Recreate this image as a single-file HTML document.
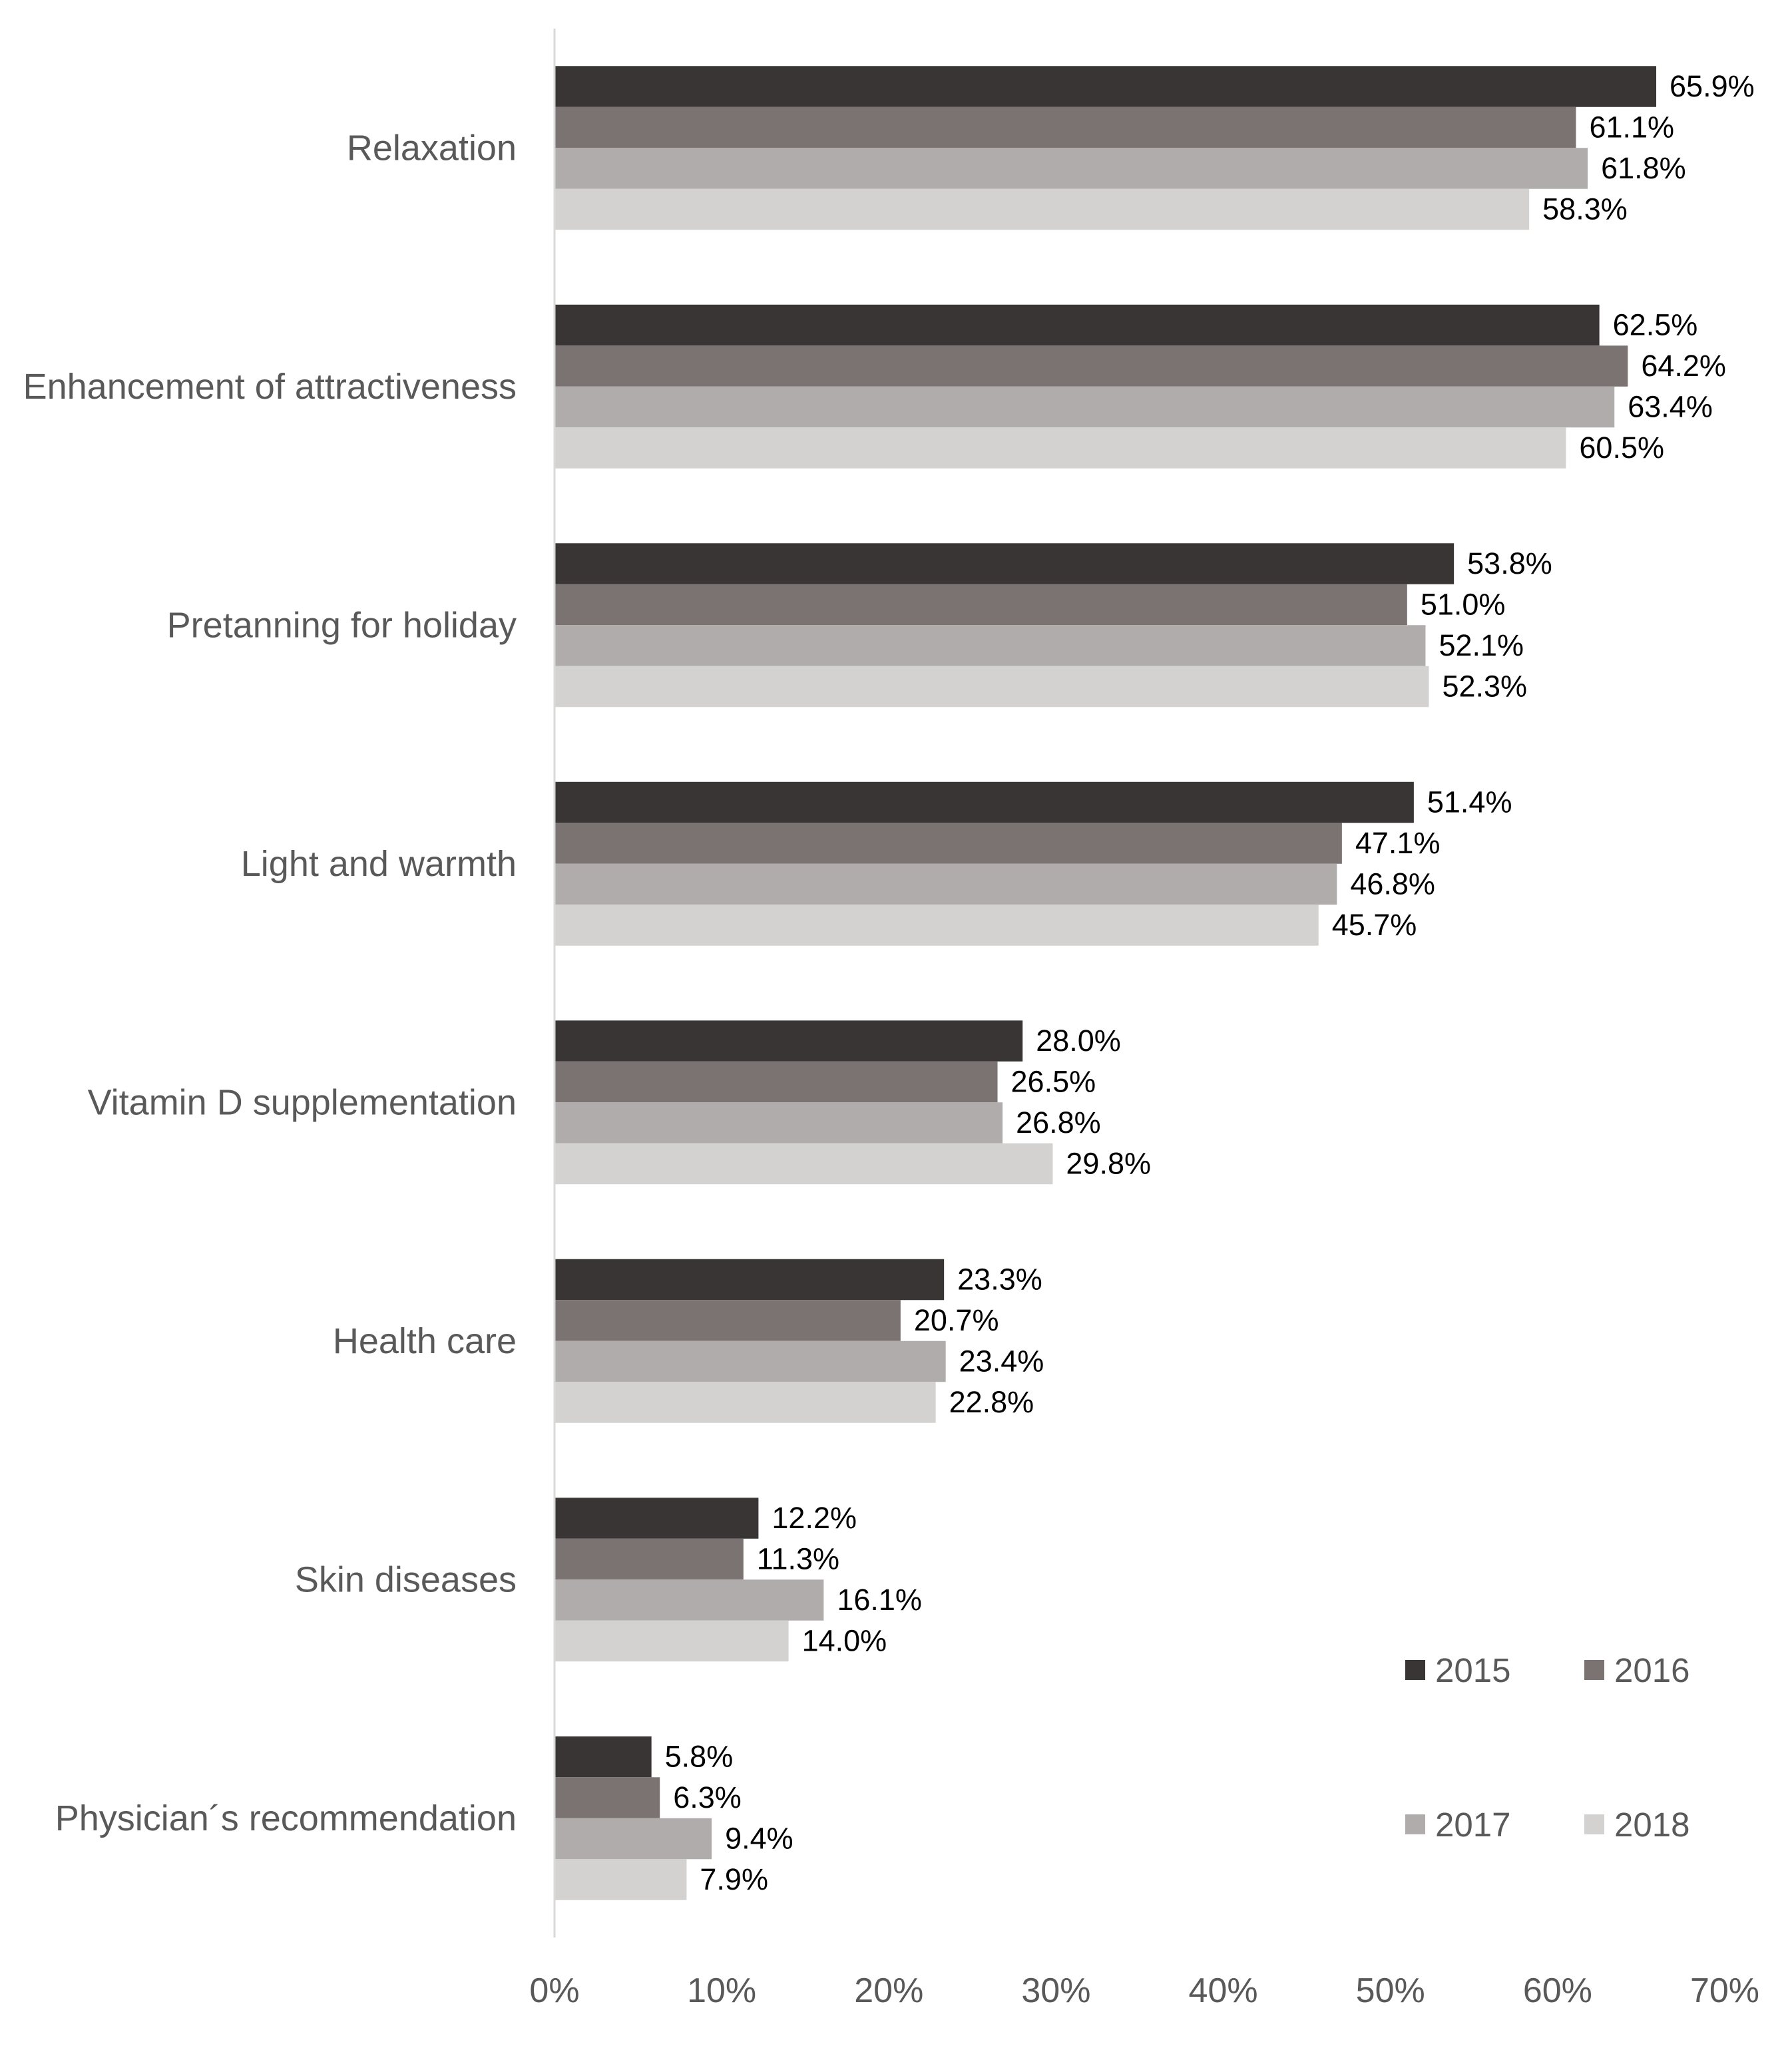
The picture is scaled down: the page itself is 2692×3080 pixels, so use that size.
<!DOCTYPE html>
<html><head><meta charset="utf-8"><style>
html,body{margin:0;padding:0;background:#fff;}
svg text{font-family:"Liberation Sans",sans-serif;}
</style></head><body>
<svg id="chart" width="2692" height="3075" viewBox="0 0 2692 3075" xmlns="http://www.w3.org/2000/svg">
<g id="bars"></g>
<g id="labels"></g>
<line x1="833" y1="43" x2="833" y2="2911" stroke="#d9d9d9" stroke-width="3"/>
<g font-size="51" fill="#595959">
<g><rect x="2111" y="2494" width="30" height="30" fill="#393534"/><text x="2156" y="2527">2015</text></g>
<g><rect x="2380" y="2494" width="30" height="30" fill="#7a7372"/><text x="2425" y="2527">2016</text></g>
<g><rect x="2111" y="2726" width="30" height="30" fill="#b0acab"/><text x="2156" y="2759">2017</text></g>
<g><rect x="2380" y="2726" width="30" height="30" fill="#d3d2d1"/><text x="2425" y="2759">2018</text></g>
</g>
</svg>
<script>
const categories=["Relaxation","Enhancement of attractiveness","Pretanning for holiday","Light and warmth","Vitamin D supplementation","Health care","Skin diseases","Physician´s recommendation "];
const s2015=[65.9,62.5,53.8,51.4,28.0,23.3,12.2,5.8];
const s2016=[61.1,64.2,51.0,47.1,26.5,20.7,11.3,6.3];
const s2017=[61.8,63.4,52.1,46.8,26.8,23.4,16.1,9.4];
const s2018=[58.3,60.5,52.3,45.7,29.8,22.8,14.0,7.9];
const ticks=[0,10,20,30,40,50,60,70];
const series=[s2015,s2016,s2017,s2018];
const years=["2015","2016","2017","2018"];
const colors=["#393534","#7a7372","#b0acab","#d3d2d1"];
const NS="http://www.w3.org/2000/svg";
const xLeft=833,xRight=2591,yTop=43,yBot=2911;
const xs=v=>xLeft+(v/70)*(xRight-xLeft);
const band=(yBot-yTop)/categories.length;
const bh=61.5, off=(band-4*bh)/2;
const gb=document.getElementById('bars'), gl=document.getElementById('labels');
categories.forEach((c,i)=>{
  const y=yTop+i*band+off;
  const t=document.createElementNS(NS,'text');
  
  
  t.setAttribute('x',776);t.setAttribute('y',yTop+i*band+band/2+18);
  t.setAttribute('text-anchor','end');t.setAttribute('font-size','54');t.setAttribute('fill','#595959');
  t.textContent=c;gl.appendChild(t);
  series.forEach((s,j)=>{
    const r=document.createElementNS(NS,'rect');
    
    
    r.setAttribute('x',xLeft);r.setAttribute('y',y+j*bh);
    r.setAttribute('width',xs(s[i])-xLeft);r.setAttribute('height',bh);
    r.setAttribute('fill',colors[j]);gb.appendChild(r);
    const v=document.createElementNS(NS,'text');
    
    
    v.setAttribute('x',xs(s[i])+20);v.setAttribute('y',y+j*bh+bh/2+15);
    v.setAttribute('font-size','45');v.setAttribute('fill','#000');
    v.textContent=s[i].toFixed(1)+'%';gl.appendChild(v);
  });
});
ticks.forEach(tk=>{
  const t=document.createElementNS(NS,'text');
  
  
  t.setAttribute('x',xs(tk));t.setAttribute('y',3008);
  t.setAttribute('text-anchor','middle');t.setAttribute('font-size','52');t.setAttribute('fill','#595959');
  t.textContent=tk+'%';gl.appendChild(t);
});
</script>
</body></html>
